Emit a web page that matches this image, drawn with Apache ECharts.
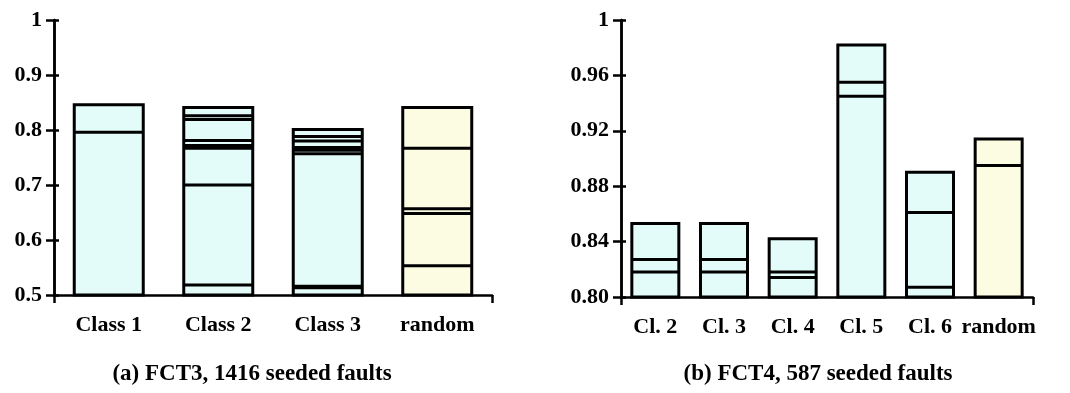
<!DOCTYPE html>
<html>
<head>
<meta charset="utf-8">
<script src="https://cdn.jsdelivr.net/npm/echarts@6/dist/echarts.min.js"></script>
<style>
html,body{margin:0;padding:0;background:#fff;}
#c{width:1070px;height:393px;}
</style>
</head>
<body>
<div id="c"></div>
<script>
// ---- data ----
const catsA = ['Class 1', 'Class 2', 'Class 3', 'random'];
// segment boundary levels (bottom to top) for each bar, panel (a); last value = bar top
const levelsA = [
  [0.796, 0.846],
  [0.518, 0.700, 0.767, 0.772, 0.781, 0.819, 0.826, 0.841],
  [0.513, 0.516, 0.757, 0.763, 0.768, 0.780, 0.788, 0.801],
  [0.553, 0.648, 0.657, 0.767, 0.841]
];
const catsB = ['Cl. 2', 'Cl. 3', 'Cl. 4', 'Cl. 5', 'Cl. 6', 'random'];
// segment boundary levels for panel (b); last value = bar top
const levelsB = [
  [0.818, 0.827, 0.853],
  [0.818, 0.827, 0.853],
  [0.814, 0.818, 0.842],
  [0.945, 0.955, 0.982],
  [0.807, 0.861, 0.890],
  [0.895, 0.914]
];
const ticksA = {min: 0.5, max: 1, interval: 0.1};
const ticksB = {min: 0.8, max: 1, interval: 0.04};
const titleA = '(a) FCT3, 1416 seeded faults';
const titleB = '(b) FCT4, 587 seeded faults';

// ---- styles ----
const CYAN = '#e3fcf9';
const YELLOW = '#fcfce3';
const FONT = 'Liberation Serif';
const FS = 22;

function barSeries(cats, levels, gi, yMin, barW) {
  const tops = levels.map((l, i) => [i, l[l.length - 1]]);
  return {
    type: 'custom', xAxisIndex: gi, yAxisIndex: gi * 2, z: 3,
    data: tops, animation: false,
    renderItem: function (params, api) {
      const ci = api.value(0);
      const top = api.coord([ci, api.value(1)]);
      const bot = api.coord([ci, yMin]);
      return {
        type: 'rect',
        shape: {x: top[0] - barW / 2, y: top[1], width: barW, height: bot[1] - top[1]},
        style: {fill: cats[ci] === 'random' ? YELLOW : CYAN, stroke: '#000', lineWidth: 3}
      };
    }
  };
}

function lineSeries(levels, gi, barW) {
  const pts = [];
  levels.forEach((l, i) => l.slice(0, -1).forEach(v => pts.push([i, v])));
  return {
    type: 'custom', xAxisIndex: gi, yAxisIndex: gi * 2, z: 4,
    data: pts, animation: false,
    renderItem: function (params, api) {
      const p = api.coord([api.value(0), api.value(1)]);
      return {
        type: 'line',
        shape: {x1: p[0] - barW / 2, y1: p[1], x2: p[0] + barW / 2, y2: p[1]},
        style: {stroke: '#000', lineWidth: 3}
      };
    }
  };
}

function yLab(gi) {
  return function (v) {
    if (Math.abs(v - 1) < 1e-9) return '1';
    return gi === 0 ? v.toFixed(1) : v.toFixed(2);
  };
}

function yAxes(gi, t) {
  const base = {
    type: 'value', gridIndex: gi, position: 'left', offset: 0,
    min: t.min, max: t.max, interval: t.interval,
    splitLine: {show: false},
    axisLine: {show: true, lineStyle: {color: '#000', width: 2.5}}
  };
  return [
    Object.assign({}, base, {
      axisTick: {show: true, length: 8, lineStyle: {color: '#000', width: 2.5}},
      axisLabel: {formatter: yLab(gi), color: '#000', fontFamily: FONT, fontWeight: 'bold', fontSize: FS, margin: 12}
    }),
    Object.assign({}, base, {
      axisTick: {show: true, inside: true, length: 5, lineStyle: {color: '#000', width: 2.5}},
      axisLabel: {show: false}
    })
  ];
}

function xAxis(gi, cats) {
  return {
    type: 'category', gridIndex: gi, data: cats,
    axisLine: {show: true, lineStyle: {color: '#000', width: 2.5}},
    axisTick: {show: true, length: 8, interval: function (i) { return i === 0; }, lineStyle: {color: '#000', width: 2.5}},
    axisLabel: {color: '#000', fontFamily: FONT, fontWeight: 'bold', fontSize: FS, margin: 19, interval: 0}
  };
}

const chart = echarts.init(document.getElementById('c'), null, {renderer: 'canvas'});
chart.setOption({
  backgroundColor: '#fff',
  animation: false,
  grid: [
    {left: 54, top: 20, width: 438, height: 275},
    {left: 621, top: 20, width: 412, height: 277}
  ],
  xAxis: [xAxis(0, catsA), xAxis(1, catsB)],
  yAxis: yAxes(0, ticksA).concat(yAxes(1, ticksB)),
  title: [
    {text: titleA, left: 247, top: 358, textAlign: 'center',
     textStyle: {fontFamily: FONT, fontWeight: 'bold', fontSize: 23, color: '#000'}},
    {text: titleB, left: 813, top: 358, textAlign: 'center',
     textStyle: {fontFamily: FONT, fontWeight: 'bold', fontSize: 23, color: '#000'}}
  ],
  series: [
    barSeries(catsA, levelsA, 0, ticksA.min, 69),
    lineSeries(levelsA, 0, 69),
    barSeries(catsB, levelsB, 1, ticksB.min, 47),
    lineSeries(levelsB, 1, 47)
  ]
});
</script>
</body>
</html>
